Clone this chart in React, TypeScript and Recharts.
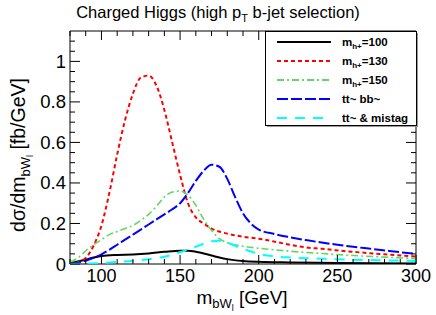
import { LineChart, Line, XAxis, YAxis, ReferenceArea } from 'recharts'

const W = 436
const H = 315
const PLOT = { left: 70, top: 31, right: 416, bottom: 264 }
const FONT = '"Liberation Sans", Arial, Helvetica, sans-serif'

const X_TICKS = [80, 90, 100, 110, 120, 130, 140, 150, 160, 170, 180, 190, 200, 210, 220, 230, 240, 250, 260, 270, 280, 290, 300]
const X_LABELS = [100, 150, 200, 250, 300]
const Y_TICKS = [0, 0.05, 0.1, 0.15, 0.2, 0.25, 0.3, 0.35, 0.4, 0.45, 0.5, 0.55, 0.6, 0.65, 0.7, 0.75, 0.8, 0.85, 0.9, 0.95, 1, 1.05, 1.1]
const Y_LABELS = [0, 0.2, 0.4, 0.6, 0.8, 1]

// m_h+ = 100
const MH100_X = [80, 85, 90, 95, 100, 110, 120, 130, 140, 150, 155, 160, 165, 170, 175, 180, 190, 200, 220, 250, 300]
const MH100_Y = [0.005, 0.012, 0.022, 0.032, 0.04, 0.045, 0.047, 0.052, 0.06, 0.066, 0.066, 0.061, 0.052, 0.042, 0.032, 0.024, 0.015, 0.011, 0.008, 0.005, 0.003]

// m_h+ = 130
const MH130_X = [80, 85, 90, 95, 100, 105, 110, 115, 120, 125, 130, 135, 140, 145, 150, 155, 160, 165, 170, 180, 190, 200, 220, 230, 240, 260, 280, 300]
const MH130_Y = [0, 0.008, 0.03, 0.09, 0.19, 0.35, 0.54, 0.71, 0.84, 0.92, 0.93, 0.88, 0.76, 0.6, 0.44, 0.3, 0.23, 0.2, 0.175, 0.15, 0.135, 0.125, 0.095, 0.082, 0.075, 0.06, 0.048, 0.037]

// m_h+ = 150
const MH150_X = [80, 85, 90, 95, 100, 105, 110, 115, 120, 125, 130, 135, 140, 145, 150, 155, 160, 165, 170, 175, 180, 190, 200, 220, 240, 260, 280, 300]
const MH150_Y = [0.01, 0.03, 0.065, 0.095, 0.12, 0.145, 0.16, 0.175, 0.19, 0.215, 0.245, 0.285, 0.33, 0.355, 0.36, 0.34, 0.29, 0.22, 0.165, 0.125, 0.105, 0.088, 0.078, 0.063, 0.052, 0.042, 0.034, 0.027]

// tt~ bb~
const TTBB_X = [80, 85, 90, 95, 100, 105, 110, 115, 120, 125, 130, 135, 140, 145, 150, 155, 160, 165, 170, 175, 180, 185, 190, 195, 200, 210, 220, 230, 240, 250, 260, 270, 280, 290, 300]
const TTBB_Y = [0, 0.006, 0.016, 0.03, 0.048, 0.07, 0.095, 0.12, 0.145, 0.17, 0.195, 0.22, 0.245, 0.27, 0.3, 0.35, 0.41, 0.46, 0.49, 0.48, 0.42, 0.33, 0.25, 0.2, 0.17, 0.148, 0.132, 0.118, 0.106, 0.095, 0.085, 0.076, 0.067, 0.058, 0.05]

// tt~ & mistag
const MISTAG_X = [80, 90, 100, 110, 120, 130, 140, 150, 160, 165, 170, 175, 180, 185, 190, 200, 210, 220, 240, 260, 280, 300]
const MISTAG_Y = [0, 0.002, 0.005, 0.01, 0.015, 0.024, 0.036, 0.058, 0.085, 0.1, 0.112, 0.115, 0.105, 0.09, 0.075, 0.05, 0.038, 0.032, 0.026, 0.021, 0.018, 0.015]

const pts = (xs: number[], ys: number[]) => xs.map((x, i) => ({ x, y: ys[i] }))

const SERIES = [
  { key: 'mh100', sub: 'h+', name: '=100', data: pts(MH100_X, MH100_Y), color: '#000000', dash: undefined, width: 2 },
  { key: 'mh130', sub: 'h+', name: '=130', data: pts(MH130_X, MH130_Y), color: '#ff0000', dash: '4 3', width: 2 },
  { key: 'mh150', sub: 'h+', name: '=150', data: pts(MH150_X, MH150_Y), color: '#5fd95f', dash: '7 3 2 3', width: 1.6 },
  { key: 'ttbb', sub: '', name: 'tt~ bb~', data: pts(TTBB_X, TTBB_Y), color: '#0000ff', dash: '11 3', width: 2 },
  { key: 'mistag', sub: '', name: 'tt~ & mistag', data: pts(MISTAG_X, MISTAG_Y), color: '#00ffff', dash: '10 8', width: 2 },
]

function XTick(props: any) {
  const { x, payload } = props
  const v = payload.value as number
  const major = X_LABELS.includes(v)
  const len = major ? 9 : 5
  return (
    <g>
      <line x1={x} x2={x} y1={PLOT.bottom} y2={PLOT.bottom - len} stroke="#000" />
      <line x1={x} x2={x} y1={PLOT.top} y2={PLOT.top + len} stroke="#000" />
      {major && (
        <text x={x} y={282} textAnchor="middle" fontSize={18} fontFamily={FONT} fill="#000">{v}</text>
      )}
    </g>
  )
}

function YTick(props: any) {
  const { y, payload } = props
  const v = payload.value as number
  const major = Y_LABELS.some((l) => Math.abs(l - v) < 1e-6)
  const len = major ? 10 : 5
  return (
    <g>
      <line x1={PLOT.left} x2={PLOT.left + len} y1={y} y2={y} stroke="#000" />
      <line x1={PLOT.right - len} x2={PLOT.right} y1={y} y2={y} stroke="#000" />
      {major && (
        <text x={PLOT.left - 4} y={y + 6.5} textAnchor="end" fontSize={18.5} fontFamily={FONT} fill="#000">{v}</text>
      )}
    </g>
  )
}

export default function App() {
  return (
    <div style={{ position: 'absolute', left: 0, top: 0, width: W, height: H, background: '#fff' }}>
      <LineChart width={W} height={H} margin={{ top: PLOT.top, right: W - PLOT.right, bottom: 0, left: 0 }}>
        <XAxis dataKey="x" type="number" domain={[80, 300]} ticks={X_TICKS} interval={0}
          tick={<XTick />} tickLine={false} axisLine={false} height={H - PLOT.bottom} allowDataOverflow />
        <YAxis type="number" domain={[0, 1.15]} ticks={Y_TICKS} interval={0}
          tick={<YTick />} tickLine={false} axisLine={false} width={PLOT.left} allowDataOverflow />
        <ReferenceArea x1={80} x2={300} y1={0} y2={1.15} fill="none" stroke="#000" strokeWidth={1} />
        {SERIES.map((s) => (
          <Line key={s.key} data={s.data} dataKey="y" type="monotone" stroke={s.color} strokeWidth={s.width}
            strokeDasharray={s.dash} dot={false} activeDot={false} isAnimationActive={false} />
        ))}
      </LineChart>
      <svg width={W} height={H} style={{ position: 'absolute', left: 0, top: 0, pointerEvents: 'none' }} fontFamily={FONT}>
        <text x={218} y={18} textAnchor="middle" fontSize={16.5} fill="#000">
          Charged Higgs (high p<tspan fontSize={11} dy={4}>T</tspan><tspan dy={-4}> b-jet selection)</tspan>
        </text>
        <text x={242} y={304} textAnchor="middle" fontSize={19} fill="#000">
          m<tspan fontSize={13} dy={4}>bW</tspan><tspan fontSize={9} dy={3}>l</tspan><tspan dy={-7}> [GeV]</tspan>
        </text>
        <text transform="translate(25,155) rotate(-90)" textAnchor="middle" fontSize={19.5} fill="#000">
          dσ/dm<tspan fontSize={13} dy={5}>bW</tspan><tspan fontSize={9} dy={3}>l</tspan><tspan dy={-8}> [fb/GeV]</tspan>
        </text>
        <g>
          <rect x={267} y={33} width={151} height={94} fill="#999" />
          <rect x={265.5} y={31.5} width={151} height={94} fill="#fff" stroke="#000" strokeWidth={1} />
          {SERIES.map((s, i) => {
            const cy = 42 + i * 19
            return (
              <g key={s.key}>
                <line x1={277} x2={331} y1={cy} y2={cy} stroke={s.color} strokeWidth={2} strokeDasharray={s.dash} />
                <text x={342} y={cy + 4} fontSize={11.5} fontWeight="bold" fill="#000">
                  {s.sub ? (
                    <>m<tspan fontSize={8} dy={3}>{s.sub}</tspan><tspan dy={-3}>{s.name}</tspan></>
                  ) : s.name}
                </text>
              </g>
            )
          })}
        </g>
      </svg>
    </div>
  )
}
